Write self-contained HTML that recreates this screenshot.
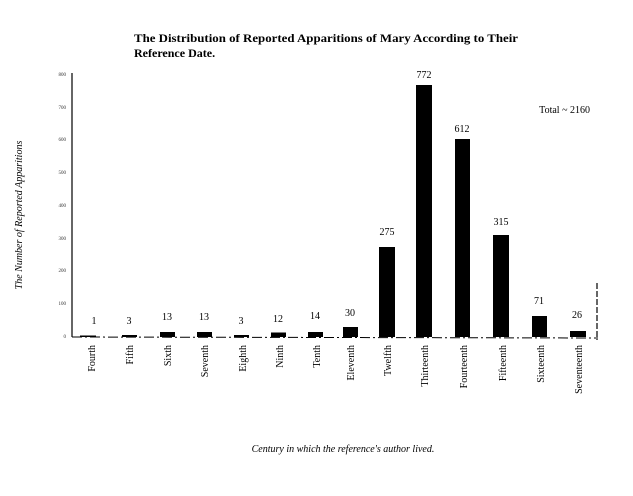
<!DOCTYPE html>
<html><head><meta charset="utf-8"><style>
html,body{margin:0;padding:0;background:#fff;}
svg{display:block;}
</style></head><body>
<svg width="633" height="496" viewBox="0 0 633 496" xmlns="http://www.w3.org/2000/svg" font-family="Liberation Serif, serif">
<rect width="633" height="496" fill="#fff"/>
<text x="134" y="42" font-size="12" font-weight="bold" textLength="384" lengthAdjust="spacingAndGlyphs">The Distribution of Reported Apparitions of Mary According to Their</text>
<text x="134" y="57" font-size="12" font-weight="bold">Reference Date.</text>
<!-- y axis -->
<line x1="72" y1="73" x2="72" y2="337" stroke="#000" stroke-width="1.2"/>
<g font-size="5" fill="#333" text-anchor="end">
<text x="66" y="76">800</text><text x="66" y="109">700</text><text x="66" y="141">600</text><text x="66" y="174">500</text><text x="66" y="207">400</text><text x="66" y="240">300</text><text x="66" y="272">200</text><text x="66" y="305">100</text><text x="66" y="338">0</text>
</g>
<line x1="72" y1="337" x2="598" y2="338" stroke="#000" stroke-width="1" stroke-dasharray="10 3 2 3"/>
<line x1="597" y1="283" x2="597" y2="340" stroke="#000" stroke-width="1.2" stroke-dasharray="6 2"/>
<text x="22" y="215" font-size="10" font-style="italic" text-anchor="middle" transform="rotate(-90 22 215)">The Number of Reported Apparitions</text>
<g fill="#000">
<rect x="80" y="335.5" width="16" height="1.5"/>
<rect x="122" y="335" width="15" height="2"/>
<rect x="160" y="332" width="15" height="5"/>
<rect x="197" y="332" width="15" height="5"/>
<rect x="234" y="335" width="15" height="2"/>
<rect x="271" y="332.5" width="15" height="4.5"/>
<rect x="308" y="332" width="15" height="5"/>
<rect x="343" y="327" width="15" height="10"/>
<rect x="379" y="247" width="16" height="90"/>
<rect x="416" y="85" width="16" height="252"/>
<rect x="455" y="139" width="15" height="198"/>
<rect x="493" y="235" width="16" height="102"/>
<rect x="532" y="316" width="15" height="21"/>
<rect x="570" y="331" width="16" height="6"/>
</g>
<g font-size="10" text-anchor="middle">
<text x="94" y="324">1</text><text x="129" y="324">3</text><text x="167" y="320">13</text><text x="204" y="320">13</text><text x="241" y="324">3</text><text x="278" y="322">12</text><text x="315" y="319">14</text><text x="350" y="316">30</text><text x="387" y="235">275</text><text x="424" y="78">772</text><text x="462" y="132">612</text><text x="501" y="225">315</text><text x="539" y="304">71</text><text x="577" y="318">26</text>
</g>
<text x="590" y="113" font-size="10" text-anchor="end">Total ~ 2160</text>
<g font-size="10" text-anchor="end">
<text transform="translate(95,345) rotate(-90)">Fourth</text>
<text transform="translate(133,345) rotate(-90)">Fifth</text>
<text transform="translate(171,345) rotate(-90)">Sixth</text>
<text transform="translate(208,345) rotate(-90)">Seventh</text>
<text transform="translate(246,345) rotate(-90)">Eighth</text>
<text transform="translate(283,345) rotate(-90)">Ninth</text>
<text transform="translate(320,345) rotate(-90)">Tenth</text>
<text transform="translate(354,345) rotate(-90)">Eleventh</text>
<text transform="translate(391,345) rotate(-90)">Twelfth</text>
<text transform="translate(428,345) rotate(-90)">Thirteenth</text>
<text transform="translate(467,345) rotate(-90)">Fourteenth</text>
<text transform="translate(506,345) rotate(-90)">Fifteenth</text>
<text transform="translate(544,345) rotate(-90)">Sixteenth</text>
<text transform="translate(582,345) rotate(-90)">Seventeenth</text>
</g>
<text x="343" y="452" font-size="10" font-style="italic" text-anchor="middle">Century in which the reference's author lived.</text>
</svg>
</body></html>
